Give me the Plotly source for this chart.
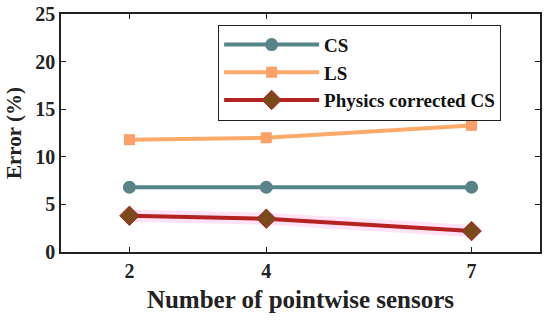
import plotly.graph_objects as go

sensors = [2, 4, 7]
cs = [6.8, 6.8, 6.8]
ls = [11.8, 12.0, 13.3]
pcs = [3.8, 3.5, 2.2]
yticks = [0, 5, 10, 15, 20, 25]

font = "Liberation Serif, Times New Roman, serif"

fig = go.Figure()
# light pink halo under physics corrected line
fig.add_trace(go.Scatter(x=sensors, y=pcs, mode="lines", line=dict(color="rgba(255,160,225,0.3)", width=12),
                         showlegend=False, hoverinfo="skip"))
fig.add_trace(go.Scatter(x=sensors, y=cs, mode="lines+markers", name="<b>CS</b>",
                         line=dict(color="#548687", width=4),
                         marker=dict(symbol="circle", size=13, color="#5a8389")))
fig.add_trace(go.Scatter(x=sensors, y=ls, mode="lines+markers", name="<b>LS</b>",
                         line=dict(color="#fdaa6a", width=4),
                         marker=dict(symbol="square", size=11, color="#fba066")))
fig.add_trace(go.Scatter(x=sensors, y=pcs, mode="lines+markers", name="<b>Physics corrected CS</b>",
                         line=dict(color="#b42222", width=4),
                         marker=dict(symbol="diamond", size=15, color="#7a4a1c", line=dict(color="#b42222", width=1))))

axis_common = dict(showline=True, linecolor="#222", linewidth=1.5, mirror="ticks", ticks="inside",
                   ticklen=5, tickcolor="#222", showgrid=False, zeroline=False, automargin=False,
                   tickfont=dict(family=font, size=20, color="#222"))
fig.update_xaxes(range=[1, 8], tickvals=sensors, ticktext=[f"<b>{s}</b>" for s in sensors],
                 title=dict(text="<b>Number of pointwise sensors</b>", font=dict(family=font, size=25, color="#222"), standoff=10),
                 **axis_common)
fig.update_yaxes(range=[0, 25], tickvals=yticks, ticktext=[f"<b>{v}</b>" for v in yticks],
                 ticklabeloverflow="allow",
                 title=dict(text="<b>Error (%)</b>", font=dict(family=font, size=21, color="#222"), standoff=8),
                 **axis_common)
fig.update_layout(
    width=550, height=321,
    margin=dict(l=61, r=10, t=14, b=69),
    paper_bgcolor="white", plot_bgcolor="white",
    font=dict(family=font, color="#222"),
    legend=dict(x=0.328, y=0.955, xanchor="left", yanchor="top", bordercolor="#222", borderwidth=1,
                bgcolor="white", font=dict(family=font, size=19, color="#111"), itemwidth=95,
                tracegroupgap=0),
)
fig.write_html("out.html", config={"displayModeBar": False},
               post_script="document.body.style.margin='0';document.body.style.overflow='hidden';")
